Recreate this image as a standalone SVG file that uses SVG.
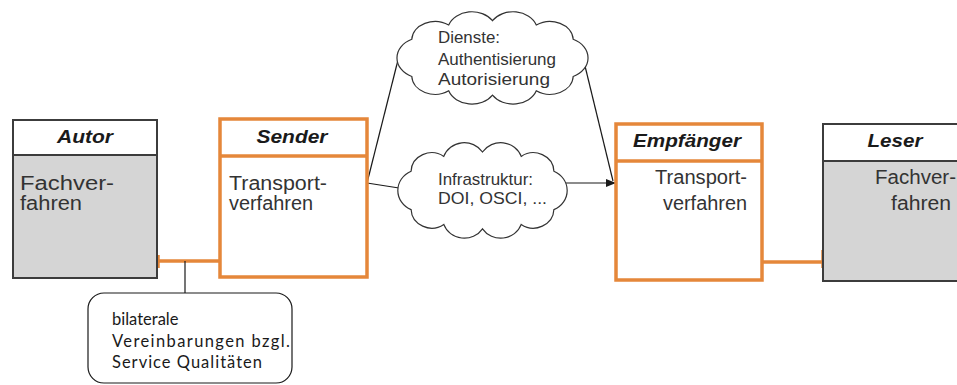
<svg xmlns="http://www.w3.org/2000/svg" width="957" height="385" viewBox="0 0 957 385">
  <style>
    .head { font-family: "Liberation Sans", Arial, sans-serif; font-size: 18px; font-weight: bold; font-style: italic; fill: #1a1a1a; text-anchor: middle; }
    .body { font-family: "Liberation Sans", Arial, sans-serif; font-size: 20px; fill: #333333; }
    .cloudtxt { font-family: "Liberation Sans", Arial, sans-serif; font-size: 17px; fill: #333333; }
    .note { font-family: Lato, "Open Sans", sans-serif; font-size: 16.5px; fill: #1a1a1a; }
    .gray-frame { fill: none; stroke: #3c3c3c; stroke-width: 2; }
    .gray-body { fill: #d5d5d5; }
    .orange-frame { fill: #ffffff; stroke: #e5873a; stroke-width: 3.5; }
    .orange-line { stroke: #e5873a; stroke-width: 3.5; fill: none; }
    .thin { stroke: #1a1a1a; stroke-width: 1.2; fill: none; }
    .cloud { fill: #ffffff; stroke: #333333; stroke-width: 1.2; }
  </style>
  <defs>
    <marker id="arrow" markerUnits="userSpaceOnUse" markerWidth="10" markerHeight="8" refX="10" refY="4" orient="auto">
      <path d="M0,0 L10,4 L0,8 Z" fill="#1a1a1a"/>
    </marker>
  </defs>

  <rect width="957" height="385" fill="#ffffff"/>

  <!-- Connectors -->
  <g id="connectors">
    <line class="orange-line" x1="157" y1="261" x2="220" y2="261"/>
    <line class="orange-line" x1="158" y1="255" x2="158" y2="268"/>
    <line class="orange-line" x1="762" y1="262" x2="823" y2="262"/>
    <line class="orange-line" x1="823" y1="250" x2="823" y2="268"/>
    <line class="thin" x1="185" y1="261" x2="185" y2="293"/>
    <line class="thin" x1="367" y1="183" x2="398" y2="60"/>
    <line class="thin" x1="367" y1="183" x2="399" y2="188"/>
    <line class="thin" x1="566" y1="183" x2="616" y2="183" marker-end="url(#arrow)"/>
    <line class="thin" x1="585" y1="66" x2="613" y2="181"/>
  </g>

  <!-- Autor -->
  <g id="autor">
    <rect x="13" y="120" width="144" height="35" fill="#ffffff"/>
    <rect class="gray-body" x="13" y="155" width="144" height="123"/>
    <rect class="gray-frame" x="13" y="120" width="144" height="158"/>
    <line class="gray-frame" x1="13" y1="155" x2="157" y2="155"/>
    <text class="head" x="85" y="143" textLength="56" lengthAdjust="spacingAndGlyphs">Autor</text>
    <text class="body" x="20" y="190" textLength="94" lengthAdjust="spacingAndGlyphs">Fachver-</text>
    <text class="body" x="20" y="210" textLength="62" lengthAdjust="spacingAndGlyphs">fahren</text>
  </g>

  <!-- Sender -->
  <g id="sender">
    <rect class="orange-frame" x="220" y="119" width="147" height="158"/>
    <line class="orange-line" x1="220" y1="156" x2="367" y2="156"/>
    <text class="head" x="292" y="143" textLength="71" lengthAdjust="spacingAndGlyphs">Sender</text>
    <text class="body" x="229" y="190" textLength="98" lengthAdjust="spacingAndGlyphs">Transport-</text>
    <text class="body" x="229" y="210" textLength="84" lengthAdjust="spacingAndGlyphs">verfahren</text>
  </g>

  <!-- Dienste cloud -->
  <g id="dienste">
    <path class="cloud" d="M411.8,76.5 A25.6,20.5 0 0 1 411.8,39.3 A23.3,18.6 0 0 1 448.7,25 A24.5,19.5 0 0 1 492.5,20.7 A24.5,19.5 0 0 1 536.3,25 A23.3,18.6 0 0 1 573.2,39.3 A25.6,20.5 0 0 1 573.2,76.5 A23.3,18.6 0 0 1 536.3,90.8 A24.5,19.5 0 0 1 492.5,95.1 A24.5,19.5 0 0 1 448.7,90.8 A23.3,18.6 0 0 1 411.8,76.5 Z"/>
    <text class="cloudtxt" x="438" y="43" textLength="62" lengthAdjust="spacingAndGlyphs">Dienste:</text>
    <text class="cloudtxt" x="438" y="65" textLength="118" lengthAdjust="spacingAndGlyphs">Authentisierung</text>
    <text class="cloudtxt" x="438" y="85" textLength="112" lengthAdjust="spacingAndGlyphs">Autorisierung</text>
  </g>

  <!-- Infrastruktur cloud -->
  <g id="infrastruktur">
    <path class="cloud" d="M411.1,209.6 A22.7,21.1 0 0 1 411.1,171.2 A20.6,19.2 0 0 1 443.8,156.4 A21.6,20.2 0 0 1 482.5,152 A21.6,20.2 0 0 1 521.2,156.4 A20.6,19.2 0 0 1 553.9,171.2 A22.7,21.1 0 0 1 553.9,209.6 A20.6,19.2 0 0 1 521.2,224.4 A21.6,20.2 0 0 1 482.5,228.8 A21.6,20.2 0 0 1 443.8,224.4 A20.6,19.2 0 0 1 411.1,209.6 Z"/>
    <text class="cloudtxt" x="438" y="185" textLength="95" lengthAdjust="spacingAndGlyphs">Infrastruktur:</text>
    <text class="cloudtxt" x="438" y="204" textLength="109" lengthAdjust="spacingAndGlyphs">DOI, OSCI, ...</text>
  </g>

  <!-- Empfänger -->
  <g id="empfaenger">
    <rect class="orange-frame" x="616" y="124" width="146" height="156"/>
    <line class="orange-line" x1="616" y1="161" x2="762" y2="161"/>
    <text class="head" x="687" y="147" textLength="108" lengthAdjust="spacingAndGlyphs">Empfänger</text>
    <text class="body" x="747" y="184" text-anchor="end" textLength="92" lengthAdjust="spacingAndGlyphs">Transport-</text>
    <text class="body" x="747" y="210" text-anchor="end" textLength="84" lengthAdjust="spacingAndGlyphs">verfahren</text>
  </g>

  <!-- Leser -->
  <g id="leser">
    <rect x="823" y="124" width="140" height="37" fill="#ffffff"/>
    <rect class="gray-body" x="823" y="161" width="140" height="120"/>
    <rect class="gray-frame" x="823" y="124" width="140" height="157"/>
    <line class="gray-frame" x1="823" y1="161" x2="963" y2="161"/>
    <text class="head" x="895" y="147" textLength="55" lengthAdjust="spacingAndGlyphs">Leser</text>
    <text class="body" x="875" y="184" textLength="81" lengthAdjust="spacingAndGlyphs">Fachver-</text>
    <text class="body" x="891" y="210" textLength="60" lengthAdjust="spacingAndGlyphs">fahren</text>
  </g>

  <!-- Vereinbarungen note -->
  <g id="vereinbarungen">
    <rect class="thin" x="88" y="293" width="204" height="90" rx="16" ry="16" fill="#ffffff"/>
    <text class="note" x="112" y="325">bilaterale</text>
    <text class="note" x="112" y="347" textLength="178" lengthAdjust="spacing">Vereinbarungen bzgl.</text>
    <text class="note" x="112" y="368" textLength="150" lengthAdjust="spacing">Service Qualitäten</text>
  </g>
</svg>
